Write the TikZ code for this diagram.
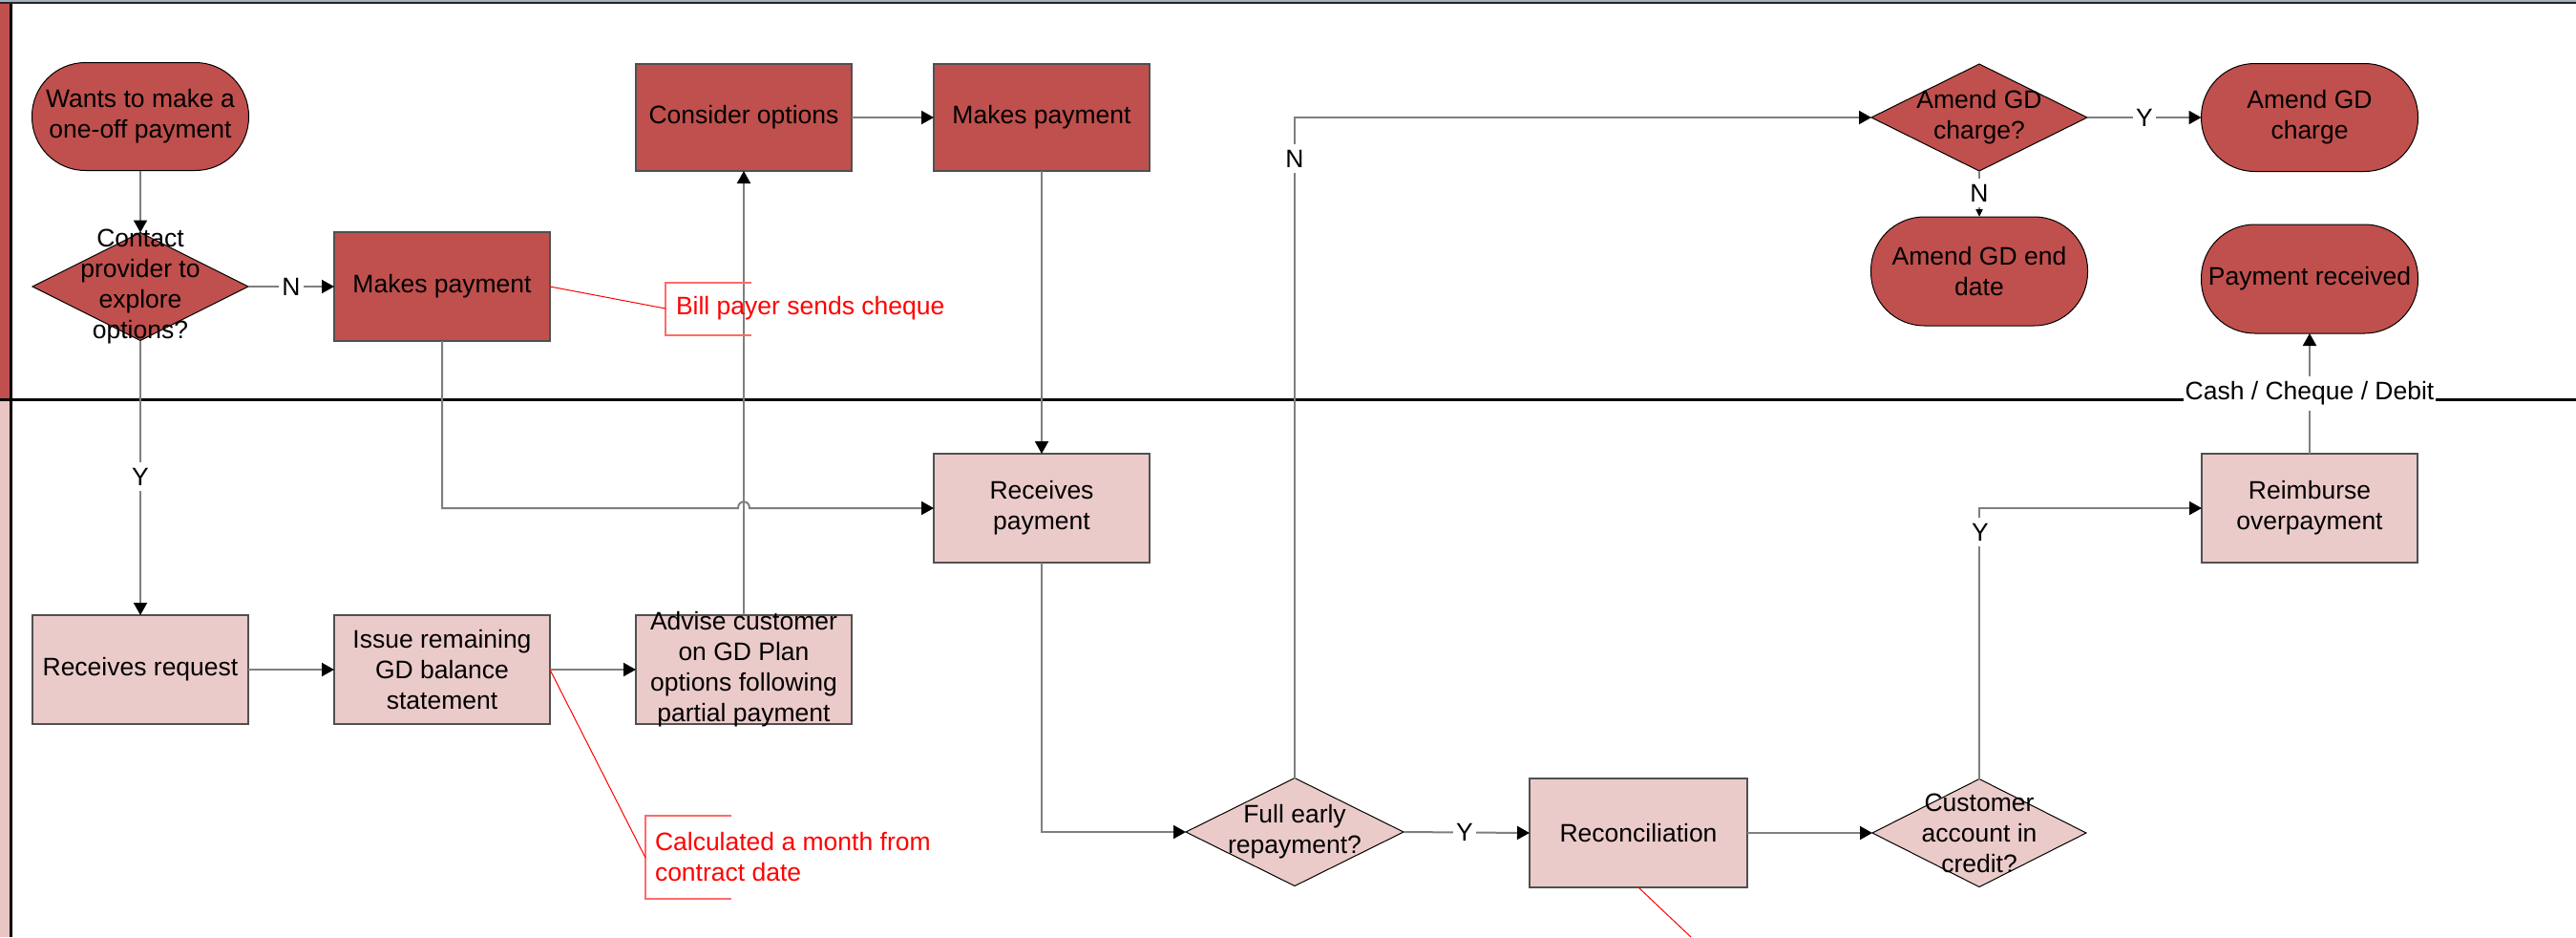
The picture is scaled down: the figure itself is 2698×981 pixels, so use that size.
\documentclass[tikz,border=0pt]{standalone}
\usepackage{fontspec}
\setmainfont{Liberation Sans}
\usetikzlibrary{arrows.meta,shapes.geometric,calc}
\definecolor{darkred}{HTML}{C0504D}
\definecolor{lightred}{HTML}{EBCBCA}
\definecolor{strippink}{HTML}{E9C5C4}
\definecolor{conn}{HTML}{7F7F7F}
\definecolor{rectline}{HTML}{505050}
\definecolor{annored}{HTML}{FF0000}
\definecolor{bracketred}{HTML}{FF6B6B}
\definecolor{topline}{HTML}{A5AFBF}
\definecolor{topdark}{HTML}{262626}
\tikzset{
  txt/.style={font=\fontsize{13.25}{16}\selectfont, align=center, inner sep=0pt, outer sep=0pt},
  procD/.style={txt, rectangle, draw=rectline, line width=0.7pt, fill=darkred, minimum width=113pt, minimum height=57pt},
  procL/.style={procD, fill=lightred},
  termD/.style={txt, rectangle, rounded corners=28pt, draw=black, line width=0.5pt, fill=darkred, minimum width=113.5pt, minimum height=56.5pt},
  decD/.style={txt, diamond, draw=black, line width=0.5pt, fill=darkred, minimum width=113pt, minimum height=56.5pt},
  decL/.style={decD, fill=lightred},
  flow/.style={draw=conn, line width=1pt, -{Triangle[length=6.5pt,width=7pt,color=black]}},
  smallflow/.style={draw=conn, line width=1pt, -{Triangle[length=4pt,width=3.5pt,color=black]}},
  yn/.style={txt, fill=white, inner xsep=1.5pt, inner ysep=3pt},
  note/.style={txt, text=annored, align=left},
  noteline/.style={draw=annored, line width=0.5pt},
  bracket/.style={draw=bracketred, line width=0.7pt},
}
\begin{document}
\begin{tikzpicture}[x=0.5pt,y=-0.5pt]
\useasboundingbox (0,0) rectangle (2698,981);
% lanes
\fill[topline] (0,0) rectangle (2698,1.7);
\fill[topdark] (0,1.7) rectangle (2698,4.3);
\fill[darkred] (0,4.3) rectangle (10,417);
\fill[strippink] (0,420) rectangle (10,981);
\fill[black] (10,4.3) rectangle (13,981);
\fill[black] (0,417) rectangle (2698,420);

% top lane nodes
\node[termD] (wants) at (147,122) {Wants to make a\\one-off payment};
\node[decD] (contact) at (147,300) {};
\node[txt] (contactt) at (147,300) {Contact\\provider to\\explore\\options?};
\node[procD] (mp1) at (463,300) {Makes payment};
\node[procD, minimum height=56pt] (consider) at (779,123) {Consider options};
\node[procD, minimum height=56pt] (mp2) at (1091,123) {Makes payment};
\node[decD, minimum height=56pt] (amendq) at (2073,123) {};
\node[txt] (amendqt) at (2073,123) {Amend GD\\charge?};
\node[termD] (amendc) at (2419,123) {Amend GD\\charge};
\node[termD, minimum height=57pt] (amendend) at (2073,284) {Amend GD end\\date};
\node[termD, minimum height=57pt] (payrec) at (2419,292) {Payment received};

% bottom lane nodes
\node[procL] (recreq) at (147,701) {Receives request};
\node[procL] (issue) at (463,701) {Issue remaining\\GD balance\\statement};
\node[procL] (advise) at (779,701) {};
\node[txt] (adviset) at (779,701) {Advise customer\\on GD Plan\\options following\\partial payment};
\node[procL] (recpay) at (1091,532) {Receives\\payment};
\node[decL, minimum width=114pt] (fullearly) at (1356,871) {};
\node[txt] (fullearlyt) at (1356,871) {Full early\\repayment?};
\node[procL, minimum width=114pt] (recon) at (1716,872) {Reconciliation};
\node[decL, minimum width=112pt] (custcred) at (2073,872) {};
\node[txt] (custcredt) at (2073,872) {Customer\\account in\\credit?};
\node[procL] (reimb) at (2419,532) {Reimburse\\overpayment};

% connectors
\draw[flow] (wants.south) -- (contact.north);
\draw[flow] (contact.east) -- (mp1.west);
\node[yn] (n1) at (305,300) {N};
\draw[flow] (contact.south) -- (recreq.north);
\node[yn] (y1) at (147,499) {Y};
\coordinate (hop) at (advise.north |- recpay.west);
\draw[flow] (mp1.south) |- ([xshift=-3pt]hop) .. controls ([xshift=-3pt,yshift=4.5pt]hop) and ([xshift=3pt,yshift=4.5pt]hop) .. ([xshift=3pt]hop) -- (recpay.west);
\draw[flow] (recreq.east) -- (issue.west);
\draw[flow] (issue.east) -- (advise.west);
\draw[flow] (advise.north) -- (consider.south);
\draw[flow] (consider.east) -- (mp2.west);
\draw[flow] (mp2.south) -- (recpay.north);
\draw[flow] (recpay.south) |- (fullearly.west);
\draw[flow] (fullearly.north) |- (amendq.west);
\node[yn] (n2) at (1356,166) {N};
\draw[flow] (fullearly.east) -- (recon.west);
\node[yn] (y2) at (1534,871) {Y};
\draw[flow] (amendq.east) -- (amendc.west);
\node[yn] (y3) at (2246,123) {Y};
\draw[smallflow] (amendq.south) -- (amendend.north);
\node[yn] (n3) at (2073,202) {N};
\draw[flow] (recon.east) -- (custcred.west);
\draw[flow] (custcred.north) |- (reimb.west);
\node[yn] (y4) at (2074,557) {Y};
\draw[flow] (reimb.north) -- (payrec.south);
\node[yn, inner xsep=1pt] (cash) at (2419,412) {Cash / Cheque / Debit};

% annotations
\coordinate (b1) at (697,323);
\draw[bracket] (787,296) -- (697,296) -- (697,351) -- (787,351);
\node[note, anchor=west] (billpayer) at (708,323) {Bill payer sends cheque};
\draw[noteline] (mp1.east) -- (b1);
\coordinate (b2) at (676,898);
\draw[bracket] (766,854) -- (676,854) -- (676,941) -- (766,941);
\node[note, anchor=west] (calcnote) at (686,897) {Calculated a month from\\contract date};
\draw[noteline] (issue.east) -- (b2);
\coordinate (b3) at (1771,981);
\draw[noteline] (recon.south) -- (b3);
\end{tikzpicture}
\end{document}
